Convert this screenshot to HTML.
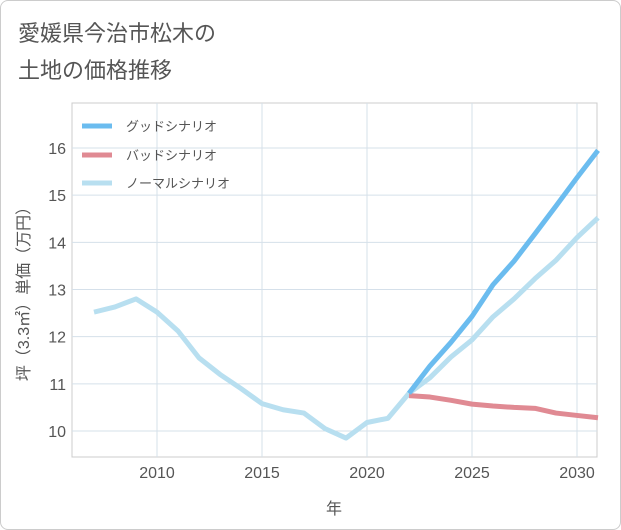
<!DOCTYPE html>
<html><head><meta charset="utf-8"><style>
body{margin:0;background:#fff;font-family:"Liberation Sans","Noto Sans CJK JP",sans-serif}
.wrap{position:relative;width:619px;height:528px;border:1px solid #ccc;border-radius:8px;overflow:hidden;background:#fff}
</style></head><body>
<div class="wrap">
<svg id="c" width="621" height="530" style="position:absolute;left:-1px;top:-1px">
<text x="18" y="41" font-size="22" fill="#555">愛媛県今治市松木の</text>
<text x="18" y="78" font-size="22" fill="#555">土地の価格推移</text>
</svg>
</div>
<script>
const years=[2007,2008,2009,2010,2011,2012,2013,2014,2015,2016,2017,2018,2019,2020,2021,2022,2023,2024,2025,2026,2027,2028,2029,2030,2031];
const normal=[12.52,12.63,12.8,12.52,12.12,11.55,11.2,10.9,10.58,10.45,10.38,10.05,9.85,10.18,10.27,10.8,11.13,11.57,11.93,12.42,12.8,13.23,13.62,14.1,14.52];
const futureYears=[2022,2023,2024,2025,2026,2027,2028,2029,2030,2031];
const good=[10.8,11.38,11.88,12.43,13.1,13.6,14.18,14.77,15.37,15.95];
const bad=[10.75,10.72,10.65,10.57,10.53,10.5,10.48,10.38,10.33,10.28];
const xTicks=[2010,2015,2020,2025,2030];
const yTicks=[10,11,12,13,14,15,16];
const NS='http://www.w3.org/2000/svg';
const svg=document.getElementById('c');
const L=72,R=597,T=103,B=457;
const x=v=>157+(v-2010)*21;
const y=v=>431-(v-10)*47.17;
function mk(t,a){const e=document.createElementNS(NS,t);for(const k in a)e.setAttribute(k,a[k]);svg.appendChild(e);return e;}
const bg=mk('rect',{x:L,y:T,width:R-L,height:B-T,fill:'none',stroke:'#ccc'});


xTicks.forEach(v=>{const g=mk('line',{x1:x(v),x2:x(v),y1:T,y2:B,stroke:'#d5e0ea'});


const t=mk('text',{x:x(v),y:478,'font-size':16,fill:'#555','text-anchor':'middle'});t.textContent=v;

});
yTicks.forEach(v=>{const g=mk('line',{x1:L,x2:R,y1:y(v),y2:y(v),stroke:'#d5e0ea'});


const t=mk('text',{x:66,y:y(v)+6,'font-size':16,fill:'#555','text-anchor':'end'});t.textContent=v;

});
const xt=mk('text',{x:334,y:514,'font-size':16,fill:'#555','text-anchor':'middle'});xt.textContent='年';


const yt=mk('text',{x:0,y:0,'font-size':16,fill:'#555','text-anchor':'middle',transform:'translate(29,290) rotate(-90)'});yt.textContent='坪（3.3㎡）単価（万円）';


function line(xs,ys,col,name){const p=mk('polyline',{points:xs.map((v,i)=>x(v)+','+y(ys[i])).join(' '),fill:'none',stroke:col,'stroke-width':5,'stroke-linejoin':'round'});

}
line(years,normal,'#b8dff0','normal-scenario-line');
line(futureYears,bad,'#e08a93','bad-scenario-line');
line(futureYears,good,'#6bbcef','good-scenario-line');
[['グッドシナリオ','#6bbcef',126],['バッドシナリオ','#e08a93',155],['ノーマルシナリオ','#b8dff0',183]].forEach(([n,c,yy])=>{
const g=mk('line',{x1:82,x2:112,y1:yy,y2:yy,stroke:c,'stroke-width':5});


const t=mk('text',{x:126,y:yy+5,'font-size':13,fill:'#555'});t.textContent=n;

});
</script>
</body></html>
